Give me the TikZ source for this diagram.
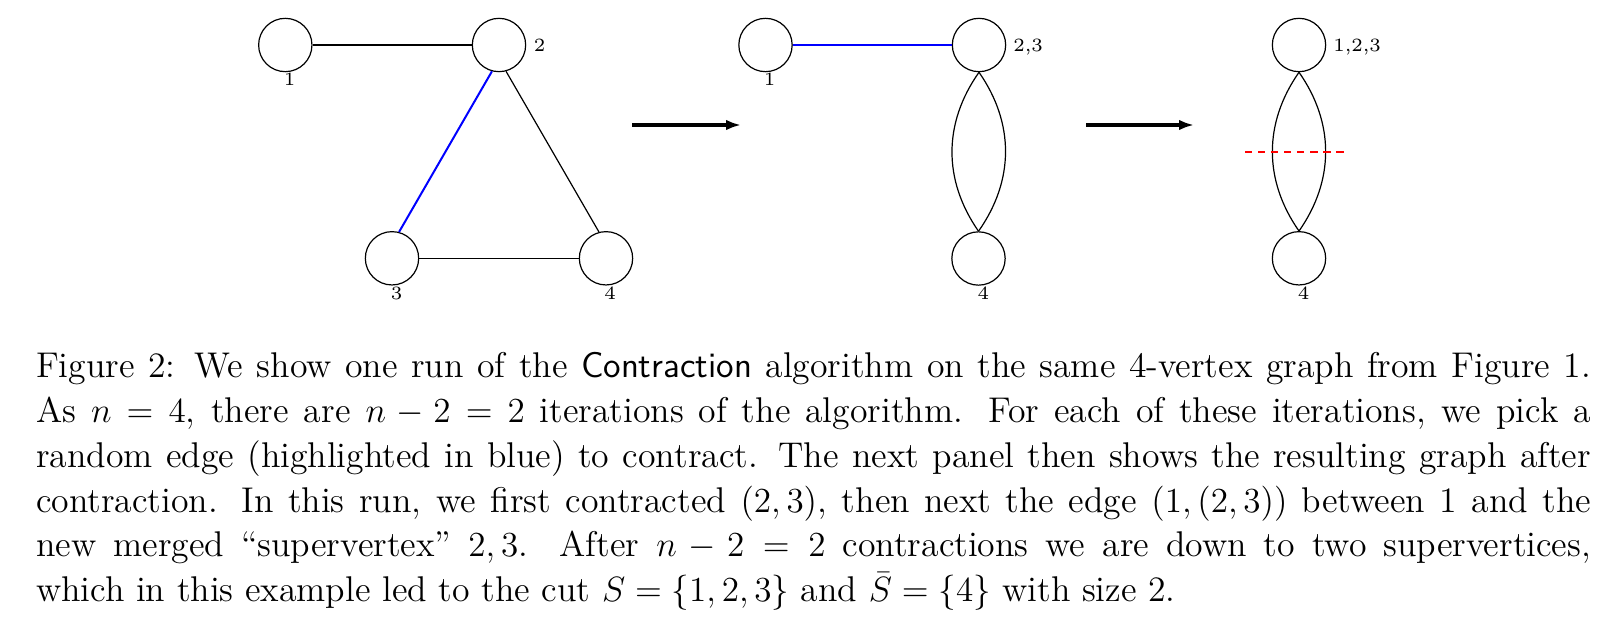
\documentclass[tikz,border=0pt]{standalone}
\usetikzlibrary{arrows.meta}
\begin{document}
\begin{tikzpicture}[x=0.3413pt,y=-0.3413pt,
  vtx/.style={draw,circle,line width=0.41pt,minimum size=18.2pt,inner sep=0pt},
  lbl/.style={inner sep=0pt,font=\fontsize{6.4}{7.7}\selectfont},
  edgeline/.style={line width=0.41pt},
  picked/.style={blue,line width=0.68pt},
  stagearrow/.style={line width=1.13pt,-{Latex[length=5.1pt,width=3.6pt]}},
  cutline/.style={red,line width=0.68pt,dash pattern=on 2.5pt off 1.95pt}]
\path[use as bounding box] (0,0) rectangle (1622,626);
% panel 1
\node[vtx] (a1) at (285.3,45) {};
\node[vtx] (a2) at (499,45) {};
\node[vtx] (a3) at (392,258.3) {};
\node[vtx] (a4) at (606,258.3) {};
\node[lbl,anchor=base] (la1) at (289.7,86) {1};
\node[lbl,anchor=base west] (la2) at (533.3,51.7) {2};
\node[lbl,anchor=base] (la3) at (396.7,299.3) {3};
\node[lbl,anchor=base] (la4) at (610.2,299.3) {4};
\draw[edgeline] (a1) -- (a2);
\draw[picked] (a2.255) -- (a3.75);
\draw[edgeline] (a2.285) -- (a4.105);
\draw[edgeline] (a3) -- (a4);
% arrow 1
\coordinate (s1) at (632,125);
\coordinate (e1) at (741,125);
\draw[stagearrow] (s1) -- (e1);
% panel 2
\node[vtx] (b1) at (765.5,45) {};
\node[vtx] (b23) at (979,45) {};
\node[vtx] (b4) at (978.5,258.5) {};
\node[lbl,anchor=base] (lb1) at (769.7,86) {1};
\node[lbl,anchor=base west] (lb23) at (1012.7,51.7) {2,3};
\node[lbl,anchor=base] (lb4) at (983.3,299.3) {4};
\draw[picked] (b1) -- (b23);
\draw[edgeline] (b23.south) to[bend left=35] (b4.north);
\draw[edgeline] (b23.south) to[bend right=35] (b4.north);
% arrow 2
\coordinate (s2) at (1086,125);
\coordinate (e2) at (1194,125);
\draw[stagearrow] (s2) -- (e2);
% panel 3
\node[vtx] (c123) at (1299,45) {};
\node[vtx] (c4) at (1299,258.3) {};
\node[lbl,anchor=base west] (lc123) at (1332.7,51.7) {1,2,3};
\node[lbl,anchor=base] (lc4) at (1303.7,299.3) {4};
\draw[edgeline] (c123.south) to[bend left=35] (c4.north);
\draw[edgeline] (c123.south) to[bend right=35] (c4.north);
\coordinate (d1) at (1245,151.7);
\coordinate (d2) at (1346,151.7);
\draw[cutline] (d1) -- (d2);
% caption
\node[anchor=base west,inner sep=0pt] (cap) at (35.5,377.6) {\parbox[t]{530.7pt}{\fontsize{12.2}{15.3}\selectfont
Figure 2: We show one run of the \textsf{Contraction} algorithm on the same 4-vertex graph from Figure 1.\linebreak
As $n=4$, there are $n-2=2$ iterations of the algorithm. For each of these iterations, we pick a\linebreak
random edge (highlighted in blue) to contract. The next panel then shows the resulting graph after\linebreak
contraction. In this run, we first contracted $(2,3)$, then next the edge $(1,(2,3))$ between 1 and the\linebreak
new merged ``supervertex'' $2,3$. After $n-2=2$ contractions we are down to two supervertices,\linebreak
which in this example led to the cut $S=\{1,2,3\}$ and $\bar{S}=\{4\}$ with size 2.}};
\end{tikzpicture}
\end{document}
